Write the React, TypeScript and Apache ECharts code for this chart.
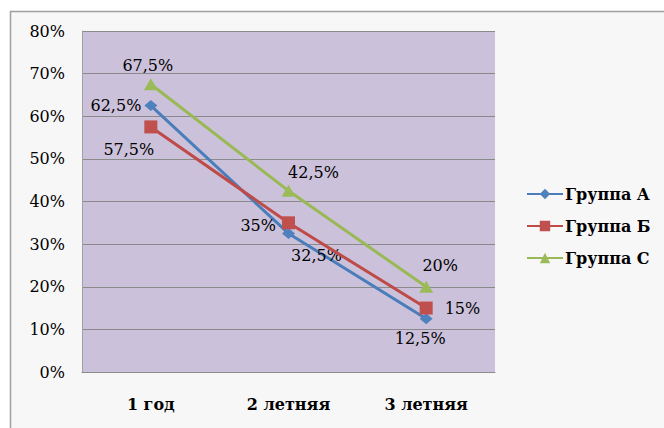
import React, { useEffect, useRef } from "react";
import * as echarts from "echarts";

const categories = ["1 год", "2 летняя", "3 летняя"];
const yTicks = [0, 10, 20, 30, 40, 50, 60, 70, 80];
const groupA = [62.5, 32.5, 12.5];
const groupB = [57.5, 35, 15];
const groupC = [67.5, 42.5, 20];
const seriesNames = ["Группа А", "Группа Б", "Группа С"];

const fmt = (v: number) => String(v).replace(".", ",") + "%";

export default function App() {
  const ref = useRef<HTMLDivElement>(null);

  useEffect(() => {
    if (!ref.current) return;
    const chart = echarts.init(ref.current, null, { renderer: "svg" });
    const serif = "DejaVu Serif";
    const labelBase = {
      show: true,
      fontFamily: serif,
      fontSize: 16,
      color: "#000",
      formatter: (p: any) => fmt(p.value),
    };
    const withLabels = (vals: number[], pos: any[]) =>
      vals.map((v, i) => ({
        value: v,
        label: { ...labelBase, position: pos[i][0], offset: pos[i][1], distance: 5 },
      }));

    chart.setOption({
      animation: false,
      backgroundColor: "#ffffff",
      textStyle: { fontFamily: serif },
      graphic: [
        {
          type: "rect",
          z: -10,
          silent: true,
          shape: { x: 10.5, y: 11.5, width: 700, height: 440 },
          style: { fill: "#F7F7F7", stroke: "#A0A0A0", lineWidth: 1.5 },
        },
      ],
      grid: {
        left: 82,
        top: 31,
        width: 413,
        height: 341,
        show: true,
        backgroundColor: "#CCC1DA",
        borderWidth: 0,
      },
      legend: {
        orient: "vertical",
        left: 521,
        top: 181,
        itemWidth: 36,
        itemHeight: 13,
        itemGap: 16,
        textStyle: {
          fontFamily: serif,
          fontWeight: "bold",
          fontSize: 16,
          color: "#000",
          padding: [0, 0, 0, -3],
        },
        data: seriesNames,
      },
      xAxis: {
        type: "category",
        data: categories,
        boundaryGap: true,
        axisLine: { lineStyle: { color: "#8C8C8C", width: 1 } },
        axisTick: { show: false },
        axisLabel: {
          margin: 24,
          fontFamily: serif,
          fontWeight: "bold",
          fontSize: 16,
          color: "#000",
        },
      },
      yAxis: {
        type: "value",
        min: yTicks[0],
        max: yTicks[yTicks.length - 1],
        interval: 10,
        axisLine: { show: true, lineStyle: { color: "#A0A0A0", width: 1 } },
        axisTick: { show: false },
        splitLine: { lineStyle: { color: "#8A8A8A", width: 1 } },
        axisLabel: {
          margin: 17,
          fontFamily: serif,
          fontSize: 16,
          color: "#000",
          formatter: (v: number) => v + "%",
        },
      },
      series: [
        {
          name: seriesNames[0],
          type: "line",
          z: 3,
          symbol: "diamond",
          symbolSize: [13, 11],
          itemStyle: { color: "#4F81BD" },
          lineStyle: { color: "#4A7EBB", width: 3 },
          data: withLabels(groupA, [
            ["left", [2, 0]],
            ["bottom", [28, 4]],
            ["bottom", [-6, 1]],
          ]),
        },
        {
          name: seriesNames[1],
          type: "line",
          z: 4,
          symbol: "rect",
          symbolSize: 13,
          itemStyle: { color: "#C0504D" },
          lineStyle: { color: "#BE4B48", width: 3 },
          data: withLabels(groupB, [
            ["bottom", [-22, 3]],
            ["left", [-1, 3]],
            ["right", [7, 0]],
          ]),
        },
        {
          name: seriesNames[2],
          type: "line",
          z: 5,
          symbol: "triangle",
          symbolSize: [14, 12],
          itemStyle: { color: "#9BBB59" },
          lineStyle: { color: "#98B954", width: 3 },
          data: withLabels(groupC, [
            ["top", [-3, 0]],
            ["top", [25, 1]],
            ["top", [14, -2]],
          ]),
        },
      ],
    });
    return () => chart.dispose();
  }, []);

  return (
    <div
      ref={ref}
      style={{ position: "fixed", left: 0, top: 0, width: 664, height: 428 }}
    />
  );
}
